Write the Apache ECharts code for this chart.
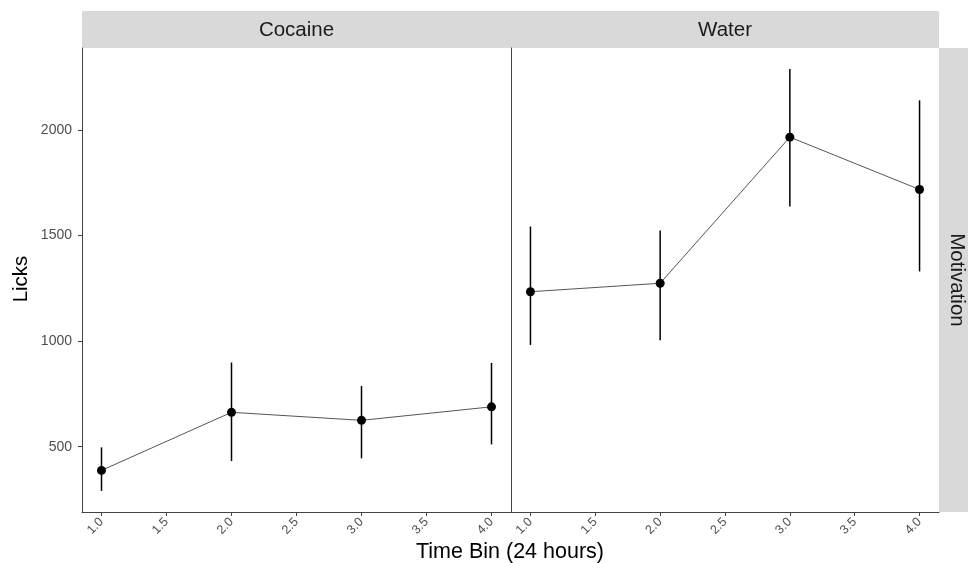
<!DOCTYPE html>
<html>
<head>
<meta charset="utf-8">
<script src="https://cdn.jsdelivr.net/npm/echarts@6/dist/echarts.min.js"></script>
<style>
html,body{margin:0;padding:0;background:#fff;}
#chart{width:968px;height:563px;}
</style>
</head>
<body>
<div id="chart"></div>
<script>
// Data
var timeBins = [1, 2, 3, 4];
var panels = ['Cocaine', 'Water'];
var cocaineMean = [388, 663, 625, 689];
var cocaineLow  = [291, 432, 445, 511];
var cocaineHigh = [497, 899, 788, 897];
var waterMean = [1234, 1274, 1966, 1718];
var waterLow  = [982, 1004, 1638, 1330];
var waterHigh = [1543, 1524, 2288, 2140];
var xTicks = [1, 1.5, 2, 2.5, 3, 3.5, 4];
var yTicks = [500, 1000, 1500, 2000];
var rowStrip = 'Motivation';
var xTitle = 'Time Bin (24 hours)';
var yTitle = 'Licks';

var FONT = '"Liberation Sans", Arial, sans-serif';
var chart = echarts.init(document.getElementById('chart'), null, {renderer: 'canvas'});

function pairs(xs, ys) { return xs.map(function (x, i) { return [x, ys[i]]; }); }
function bars(xs, lo, hi) { return xs.map(function (x, i) { return [x, lo[i], hi[i]]; }); }

function errRender(params, api) {
  var p1 = api.coord([api.value(0), api.value(1)]);
  var p2 = api.coord([api.value(0), api.value(2)]);
  return {
    type: 'line',
    shape: {x1: p1[0], y1: p1[1], x2: p2[0], y2: p2[1]},
    style: {stroke: '#000', lineWidth: 1.5}
  };
}

var grids = [
  {left: 82, top: 48, width: 429, height: 464},
  {left: 511, top: 48, width: 428, height: 464}
];

function xAxisFor(i) {
  return {
    type: 'value', gridIndex: i, min: 0.85, max: 4.15,
    axisLine: {show: true, lineStyle: {color: '#444', width: 1}},
    axisTick: {show: true, length: 4, customValues: xTicks, lineStyle: {color: '#444'}},
    axisLabel: {show: true, customValues: xTicks, rotate: 45, margin: 8,
      color: '#4d4d4d', fontSize: 12.5, fontFamily: FONT,
      formatter: function (v) { return Number(v).toFixed(1); }},
    splitLine: {show: false}
  };
}
function yAxisFor(i) {
  return {
    type: 'value', gridIndex: i, min: 191, max: 2388,
    axisLine: {show: true, lineStyle: {color: '#444', width: 1}},
    axisTick: {show: i === 0, length: 4, customValues: yTicks, lineStyle: {color: '#444'}},
    axisLabel: {show: i === 0, customValues: yTicks, margin: 10,
      color: '#4d4d4d', fontSize: 14, fontFamily: FONT,
      formatter: function (v) { return String(v); }},
    splitLine: {show: false}
  };
}

var means = [cocaineMean, waterMean];
var lows = [cocaineLow, waterLow];
var highs = [cocaineHigh, waterHigh];
var series = [];
for (var i = 0; i < 2; i++) {
  series.push({
    type: 'line', xAxisIndex: i, yAxisIndex: i,
    data: pairs(timeBins, means[i]),
    showSymbol: false, symbol: 'none',
    lineStyle: {color: '#555', width: 1},
    z: 2, silent: true, animation: false
  });
  series.push({
    type: 'custom', xAxisIndex: i, yAxisIndex: i,
    data: bars(timeBins, lows[i], highs[i]),
    renderItem: errRender, z: 3, silent: true, animation: false
  });
  series.push({
    type: 'scatter', xAxisIndex: i, yAxisIndex: i,
    data: pairs(timeBins, means[i]),
    symbol: 'circle', symbolSize: 9,
    itemStyle: {color: '#000', opacity: 1},
    z: 4, silent: true, animation: false
  });
}

var graphics = [
  {type: 'rect', shape: {x: 82, y: 11, width: 429, height: 37}, style: {fill: '#d9d9d9'}, z: -1},
  {type: 'rect', shape: {x: 511, y: 11, width: 428, height: 37}, style: {fill: '#d9d9d9'}, z: -1},
  {type: 'rect', shape: {x: 939, y: 48, width: 29, height: 464}, style: {fill: '#d9d9d9'}, z: -1},
  {type: 'text', x: 82 + 429 / 2, y: 30, style: {text: panels[0], fill: '#1a1a1a', font: '20.5px ' + FONT, align: 'center', verticalAlign: 'middle'}},
  {type: 'text', x: 511 + 428 / 2, y: 30, style: {text: panels[1], fill: '#1a1a1a', font: '20.5px ' + FONT, align: 'center', verticalAlign: 'middle'}},
  {type: 'text', x: 957, y: 280, rotation: -Math.PI / 2, style: {text: rowStrip, fill: '#1a1a1a', font: '20.5px ' + FONT, align: 'center', verticalAlign: 'middle'}},
  {type: 'text', x: 510, y: 552, style: {text: xTitle, fill: '#000', font: '21.5px ' + FONT, align: 'center', verticalAlign: 'middle'}},
  {type: 'text', x: 21, y: 279, rotation: Math.PI / 2, style: {text: yTitle, fill: '#000', font: '20.5px ' + FONT, align: 'center', verticalAlign: 'middle'}}
];

chart.setOption({
  animation: false,
  backgroundColor: '#fff',
  grid: grids,
  xAxis: [xAxisFor(0), xAxisFor(1)],
  yAxis: [yAxisFor(0), yAxisFor(1)],
  series: series,
  graphic: graphics
});
</script>
</body>
</html>
